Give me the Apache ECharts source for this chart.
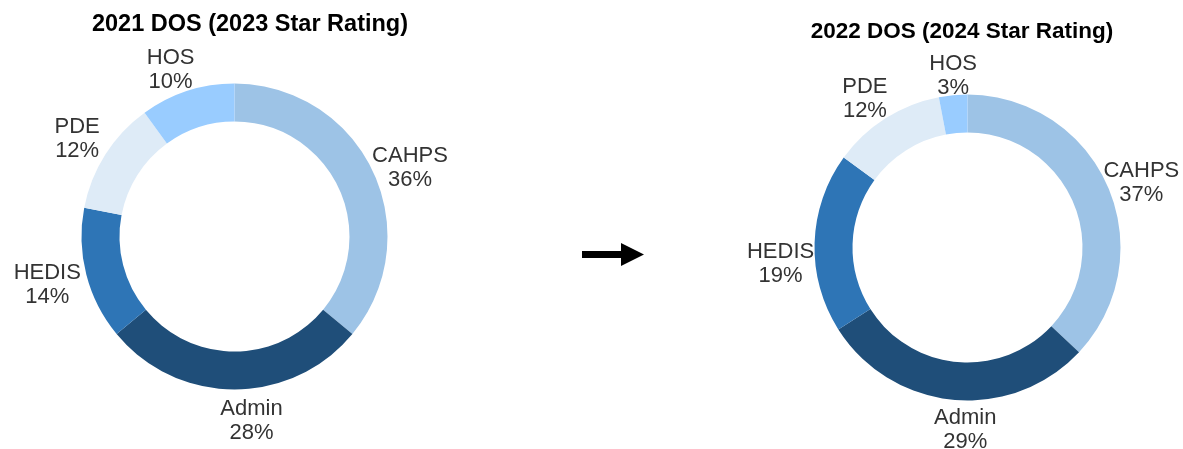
<!DOCTYPE html>
<html>
<head>
<meta charset="utf-8">
<script src="https://cdn.jsdelivr.net/npm/echarts@6/dist/echarts.min.js"></script>
<style>
html, body { margin: 0; padding: 0; background: #ffffff; }
#chart { width: 1183px; height: 449px; }
</style>
</head>
<body>
<div id="chart"></div>
<script>
// ---- data ----
var categories = ['CAHPS', 'Admin', 'HEDIS', 'PDE', 'HOS'];
var values2021 = [36, 28, 14, 12, 10];
var values2022 = [37, 29, 19, 12, 3];
var title2021 = '2021 DOS (2023 Star Rating)';
var title2022 = '2022 DOS (2024 Star Rating)';

// ---- styles / layout ----
var colors = ['#9DC3E6', '#1F4E79', '#2E75B6', '#DEEBF7', '#99CCFF'];
var FONT = '"Liberation Sans", Arial, sans-serif';
// small label nudges [dx, dy] to mimic the original label placement
var nudgeLeft = [[9, 10], [17, 0], [-9, 3], [-2, 1], [-7, 8]];
var nudgeRight = [[5, 9], [15, -1], [-3, 22], [-4, 7], [3, 12]];

function buildData(vals) {
  return categories.map(function (c, i) {
    return { name: c, value: vals[i], itemStyle: { color: colors[i] } };
  });
}

function pieSeries(vals, center, nudge) {
  return {
    type: 'pie',
    center: center,
    radius: [115, 153],
    startAngle: 90,
    clockwise: true,
    avoidLabelOverlap: false,
    animation: false,
    silent: true,
    itemStyle: { borderWidth: 0 },
    label: {
      show: true,
      position: 'outside',
      formatter: '{b}\n{c}%',
      fontFamily: FONT,
      fontSize: 22,
      lineHeight: 24,
      color: '#333333',
      distanceToLabelLine: 0
    },
    labelLine: { show: false, length: 31, length2: 0 },
    labelLayout: function (p) {
      var r = p.labelRect;
      var ax = p.align === 'left' ? r.x : (p.align === 'right' ? r.x + r.width : r.x + r.width / 2);
      var ay = r.y + r.height / 2;
      var n = nudge[p.dataIndex] || [0, 0];
      return { x: ax + n[0], y: ay + n[1], align: 'center', verticalAlign: 'middle' };
    },
    data: buildData(vals)
  };
}

var chart = echarts.init(document.getElementById('chart'), null, { renderer: 'canvas' });
chart.setOption({
  backgroundColor: '#ffffff',
  title: [
    {
      text: title2021, left: 245, top: 8, textAlign: 'center',
      textStyle: { fontFamily: FONT, fontWeight: 'bold', fontSize: 23.5, color: '#000000' }
    },
    {
      text: title2022, left: 957, top: 15, textAlign: 'center',
      textStyle: { fontFamily: FONT, fontWeight: 'bold', fontSize: 22.5, color: '#000000' }
    }
  ],
  graphic: [
    {
      type: 'polygon',
      shape: { points: [[582, 251], [621, 251], [621, 243], [644, 254.5], [621, 266], [621, 258], [582, 258]] },
      style: { fill: '#000000' }
    }
  ],
  series: [
    pieSeries(values2021, [234.5, 236.5], nudgeLeft),
    pieSeries(values2022, [967.5, 247.5], nudgeRight)
  ]
});
</script>
</body>
</html>
